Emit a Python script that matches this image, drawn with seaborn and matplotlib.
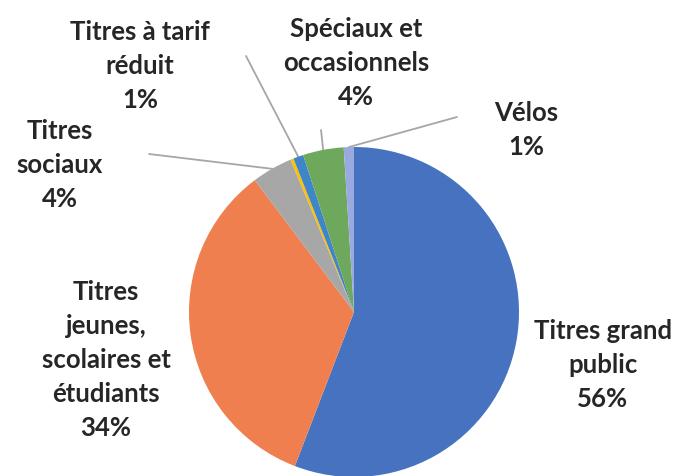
import matplotlib
matplotlib.use("Agg")
import matplotlib.pyplot as plt
import seaborn as sns
import numpy as np

# ---- data ----
categories = ["Titres grand\npublic",
              "Titres\njeunes,\nscolaires et\nétudiants",
              "Titres\nsociaux",
              "",
              "Titres à tarif\nréduit",
              "Spéciaux et\noccasionnels",
              "Vélos"]
values = [56, 34, 4, 0.3, 1, 4, 1]
colors = ["#4672C0", "#F07F50", "#A7A7A7", "#FFC000", "#3F86C8", "#6EA85C", "#9AAAE0"]

sns.set_theme(style="white")
plt.rcParams['font.family'] = ['Lato', 'DejaVu Sans']

W, H = 675, 477
fig = plt.figure(figsize=(W / 100, H / 100), dpi=100)
ax = fig.add_axes([0, 0, 1, 1])

def P(x, y):
    return x, H - y

cx, cy = P(354, 313)
R = 165
wedges, _ = ax.pie(values, colors=colors, startangle=90, counterclock=False,
                   center=(cx, cy), radius=R, frame=True,
                   wedgeprops=dict(linewidth=0))
ax.set_xlim(0, W)
ax.set_ylim(0, H)
ax.set_aspect("equal")
ax.axis("off")

# label placement (pixel coords of text centre) and leader start points
label_pos = {0: (603, 365), 1: (106, 360), 2: (60, 165), 4: (140, 66), 5: (356, 63), 6: (526, 130)}
leader_start = {2: (149, 155), 4: (246, 57), 5: (321, 131), 6: (457, 118)}

for i, (name, v) in enumerate(zip(categories, values)):
    if not name:
        continue
    x, y = P(*label_pos[i])
    ax.text(x, y, f"{name}\n{round(v)}%", ha="center", va="center", fontsize=18.5,
            fontweight="bold", color="#262626", linespacing=1.5)
    if i in leader_start:
        w = wedges[i]
        mid = np.deg2rad((w.theta1 + w.theta2) / 2)
        ex = cx + R * np.cos(mid)
        ey = cy + R * np.sin(mid)
        sx, sy = P(*leader_start[i])
        ax.plot([sx, ex], [sy, ey], color="#A6A6A6", lw=1.3, zorder=0.5)

fig.savefig("out.png", dpi=100, facecolor="white")
